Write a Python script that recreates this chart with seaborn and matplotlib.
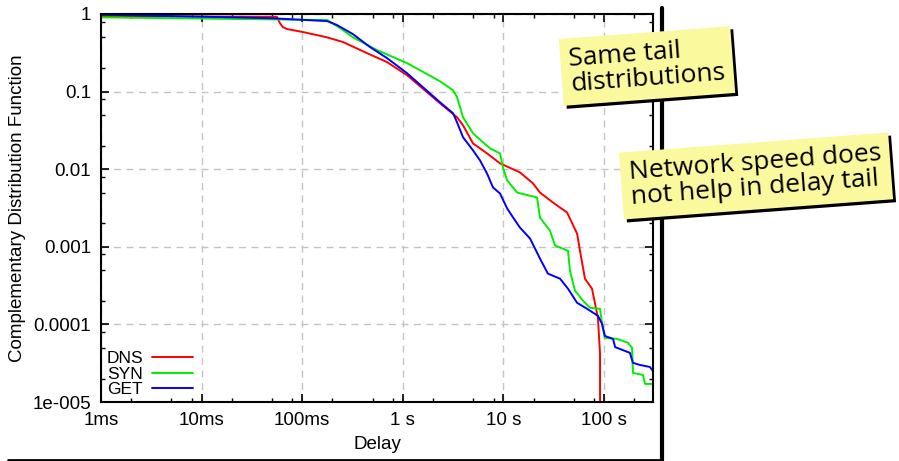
import matplotlib.pyplot as plt
import matplotlib.transforms as mtransforms
import pandas as pd
import seaborn as sns
from matplotlib.lines import Line2D
from matplotlib.ticker import FixedLocator, LogLocator, NullFormatter

# delays in seconds, complementary CDF values
dns_delay = [0.001, 0.056, 0.060, 0.064, 0.0706, 0.102, 0.177, 0.255, 0.441, 0.697, 1.10, 2.34, 3.46, 3.97,
             4.99, 6.87, 9.25, 14.6, 19.7, 23.1, 31.1, 42.9, 54.0, 57.7, 61.8, 64.7, 76.0, 81.5, 87.0, 91.3, 91.5]
dns_ccdf = [0.94, 0.92, 0.765, 0.68, 0.64, 0.585, 0.50, 0.435, 0.313, 0.24, 0.163, 0.0708, 0.0467, 0.0368,
            0.0215, 0.016, 0.0119, 0.0091, 0.00656, 0.0050, 0.00372, 0.00277, 0.00148, 0.00089, 0.00054,
            0.000388, 0.000288, 0.000185, 0.000122, 4.2e-5, 1e-6]

syn_delay = [0.001, 0.177, 0.238, 0.320, 0.554, 1.10, 2.34, 3.16, 3.46, 3.97, 4.99, 6.27, 7.36, 9.25, 9.9,
             10.9, 13.7, 21.6, 23.1, 29.0, 32.6, 43.9, 45.9, 51.5, 61.8, 72.6, 91.3, 95.6, 102, 135, 173, 190,
             194, 244, 256, 307]
syn_ccdf = [0.906, 0.836, 0.66, 0.50, 0.343, 0.233, 0.136, 0.104, 0.0847, 0.0467, 0.029, 0.0222, 0.0186,
            0.016, 0.0105, 0.00716, 0.0050, 0.00432, 0.00238, 0.00162, 0.00104, 0.00089, 0.00049, 0.000272,
            0.000202, 0.000164, 0.000159, 0.000102, 6.7e-5, 6.5e-5, 5.8e-5, 5.0e-5, 2.37e-5, 2.23e-5,
            1.71e-5, 1.71e-5]

get_delay = [0.001, 0.0205, 0.051, 0.177, 0.222, 0.320, 0.472, 0.697, 1.10, 2.34, 3.16, 3.46, 3.97, 4.99,
             5.85, 6.87, 7.88, 9.25, 10.9, 12.5, 14.6, 18.4, 23.1, 27.7, 36.6, 43.9, 54.0, 67.8, 87.0, 95.6,
             102, 123, 129, 181, 194, 228, 286, 307]
get_ccdf = [0.98, 0.906, 0.88, 0.81, 0.72, 0.55, 0.375, 0.27, 0.173, 0.073, 0.0526, 0.0402, 0.0258, 0.0175,
            0.013, 0.00883, 0.00582, 0.00487, 0.00312, 0.00238, 0.00177, 0.00128, 0.000705, 0.000451,
            0.000388, 0.000288, 0.00019, 0.000159, 0.000129, 0.000102, 7.1e-5, 6.5e-5, 5.1e-5, 4.3e-5,
            3.2e-5, 3.0e-5, 2.83e-5, 2.5e-5]

x_ticks = [1e-3, 1e-2, 1e-1, 1, 10, 100]
x_tick_labels = ["1ms", "10ms", "100ms", "1 s", "10 s", "100 s"]
y_ticks = [1, 0.1, 0.01, 0.001, 0.0001, 0.00001]
y_tick_labels = ["1", "0.1", "0.01", "0.001", "0.0001", "1e-005"]

PALETTE = {"DNS": "#ff0000", "SYN": "#00ee00", "GET": "#0000ff"}
TEXT_SIZE = 13.5
LEGEND_SIZE = 12.5
NOTE_FONT = "Open Sans"
NOTE_COLOR = "#fbf99d"


def build_frame() -> pd.DataFrame:
    parts = [
        pd.DataFrame({"Delay": dns_delay, "CCDF": dns_ccdf, "Request": "DNS"}),
        pd.DataFrame({"Delay": syn_delay, "CCDF": syn_ccdf, "Request": "SYN"}),
        pd.DataFrame({"Delay": get_delay, "CCDF": get_ccdf, "Request": "GET"}),
    ]
    return pd.concat(parts, ignore_index=True)


def add_note(fig, x, y, text, size):
    shadow = mtransforms.offset_copy(fig.transFigure, fig=fig, x=3, y=-3, units="dots")
    common = dict(rotation=4.3, rotation_mode="anchor", ha="center", va="center", multialignment="left",
                  fontsize=size, family=NOTE_FONT, linespacing=1.0)
    fig.text(x, y, text, transform=shadow, color="none",
             bbox=dict(boxstyle="square,pad=0.32", fc="black", ec="none"), **common)
    fig.text(x, y, text, color="black",
             bbox=dict(boxstyle="square,pad=0.32", fc=NOTE_COLOR, ec="none"), **common)


def main() -> None:
    sns.set_style("ticks")
    plt.rcParams["font.family"] = ["Liberation Sans", "DejaVu Sans"]
    plt.rcParams["text.color"] = "black"

    fig = plt.figure(figsize=(8.99, 4.61), dpi=100)
    ax = fig.add_axes([101 / 899, 1 - 402 / 461, 552 / 899, 388 / 461])

    df = build_frame()
    ax.set_xscale("log")
    ax.set_yscale("log")
    sns.lineplot(data=df, x="Delay", y="CCDF", hue="Request", palette=PALETTE, estimator=None, sort=False,
                 linewidth=1.4, ax=ax)

    ax.set_xlim(1e-3, 307)
    ax.set_ylim(1e-5, 1)
    ax.xaxis.set_major_locator(FixedLocator(x_ticks))
    ax.set_xticklabels(x_tick_labels)
    ax.yaxis.set_major_locator(FixedLocator(y_ticks))
    ax.set_yticklabels(y_tick_labels)
    for axis in (ax.xaxis, ax.yaxis):
        axis.set_minor_locator(LogLocator(base=10, subs=[2, 5, 8], numticks=20))
        axis.set_minor_formatter(NullFormatter())
    ax.tick_params(which="both", direction="in", top=True, right=True, color="black", labelsize=TEXT_SIZE,
                   labelcolor="black", pad=7)
    ax.tick_params(which="major", length=6, width=1.2)
    ax.tick_params(which="minor", length=3, width=1.0)
    ax.grid(which="major", color="#c4c4c4", linestyle=(0, (5, 4)), linewidth=1)
    for spine in ax.spines.values():
        spine.set_color("black")
        spine.set_linewidth(1.5)

    ax.set_xlabel("Delay", fontsize=TEXT_SIZE, color="black", labelpad=5)
    ax.set_ylabel("Complementary Distribution Function", fontsize=TEXT_SIZE, color="black", labelpad=5)

    handles, labels = ax.get_legend_handles_labels()
    ax.legend(handles, labels, loc="lower left", frameon=False, markerfirst=False, fontsize=LEGEND_SIZE,
              labelcolor="black", handlelength=2.4, handletextpad=0.5, labelspacing=0.0, borderaxespad=0.1,
              borderpad=0.2)

    fig.add_artist(Line2D([662 / 899, 662 / 899], [1 - 8 / 461, 1 - 460 / 461], color="black", linewidth=3))
    fig.add_artist(Line2D([8 / 899, 662 / 899], [1 - 459.5 / 461, 1 - 459.5 / 461], color="black", linewidth=2))

    add_note(fig, 647 / 899, 1 - 66 / 461, "Same tail\ndistributions", 19)
    add_note(fig, 756 / 899, 1 - 176 / 461, "Network speed does\nnot help in delay tail", 19)

    fig.savefig("out.png", dpi=100)


if __name__ == "__main__":
    main()
